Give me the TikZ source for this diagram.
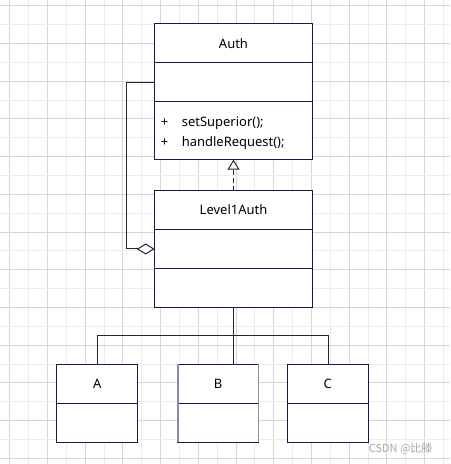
\documentclass[tikz,border=0pt]{standalone}
\usepackage{fontspec}
\setmainfont{Noto Sans}
\newfontfamily\cjk{Noto Sans CJK SC}
\usepackage{tikz}
\usetikzlibrary{positioning,arrows.meta}

\definecolor{umlnavy}{RGB}{22,26,72}
\definecolor{gridmajor}{RGB}{214,214,214}
\definecolor{gridminor}{RGB}{235,235,235}

\begin{document}
\begin{tikzpicture}[x=1pt, y=-1pt,
  classbox/.style={draw=umlnavy, line width=1.1pt, fill=white, outer sep=0pt, inner sep=0pt,
    font=\fontsize{13}{19.3}\selectfont},
  link/.style={line width=1pt, draw=black!85}]

\fill[white] (0,0) rectangle (450,464);

% grid
\foreach \i in {0,...,23} {
  \pgfmathsetmacro{\gx}{9.3+18.9*\i}
  \ifodd\i \def\gc{gridminor}\else\def\gc{gridmajor}\fi
  \draw[\gc, line width=1pt] (\gx,0) -- (\gx,464);
}
\foreach \i in {0,...,24} {
  \pgfmathsetmacro{\gy}{5.3+18.9*\i}
  \ifodd\i \def\gc{gridminor}\else\def\gc{gridmajor}\fi
  \draw[\gc, line width=1pt] (0,\gy) -- (450,\gy);
}

% Auth
\node[classbox, minimum width=158pt, minimum height=39pt] (auth) at (233.5,43) {Auth};
\node[classbox, minimum width=158pt, minimum height=39pt, below=0pt of auth] (authattr) {};
\node[classbox, minimum width=158pt, minimum height=58pt, below=0pt of authattr] (authops) {};
\node[anchor=west, inner sep=0pt, align=left, font=\fontsize{13}{19.3}\selectfont]
  (opslist) at ([xshift=6pt, yshift=-2.5pt]authops.west)
  {\makebox[21pt][l]{+}setSuperior();\\\makebox[21pt][l]{+}handleRequest();};

% Level1Auth
\node[classbox, minimum width=158pt, minimum height=39pt] (lvl) at (233.5,210) {Level1Auth};
\node[classbox, minimum width=158pt, minimum height=39pt, below=0pt of lvl] (lvlattr) {};
\node[classbox, minimum width=158pt, minimum height=39pt, below=0pt of lvlattr] (lvlops) {};

% A, B, C
\node[classbox, minimum width=81pt, minimum height=39pt] (a) at (97,384) {A};
\node[classbox, minimum width=81pt, minimum height=39pt, below=0pt of a] (abody) {};
\node[classbox, minimum width=81pt, minimum height=39pt] (b) at (218,384) {B};
\node[classbox, minimum width=81pt, minimum height=39pt, below=0pt of b] (bbody) {};
\node[classbox, minimum width=81pt, minimum height=39pt] (c) at (328,384) {C};
\node[classbox, minimum width=81pt, minimum height=39pt, below=0pt of c] (cbody) {};
\draw[color={rgb,255:red,138;green,140;blue,165}, line width=1.8pt]
  (b.north west) -- (bbody.south west) (b.north east) -- (bbody.south east);

% generalization
\draw[link, dash pattern=on 5pt off 3pt,
  -{Triangle[open, length=10pt, width=12pt, fill=white]}] (lvl.north) -- (authops.south);

% aggregation
\draw[link, -{Diamond[open, length=18pt, width=11pt, fill=white]}]
  (authattr.west) -- ++(-28,0) |- (lvlattr.west);

% subclasses
\coordinate (split) at (233.5,335.5);
\draw[link] (lvlops.south) -- (split) -| ([xshift=0.5pt]a.north);
\draw[link] (split) -| ([xshift=0.5pt]c.north);
\draw[link] (split) -- (split |- b.north);

\node[text={rgb,255:red,168;green,168;blue,168}, font=\cjk\fontsize{11}{13}\selectfont]
  (mark) at (401,449) {CSDN @比滕};

\end{tikzpicture}
\end{document}
